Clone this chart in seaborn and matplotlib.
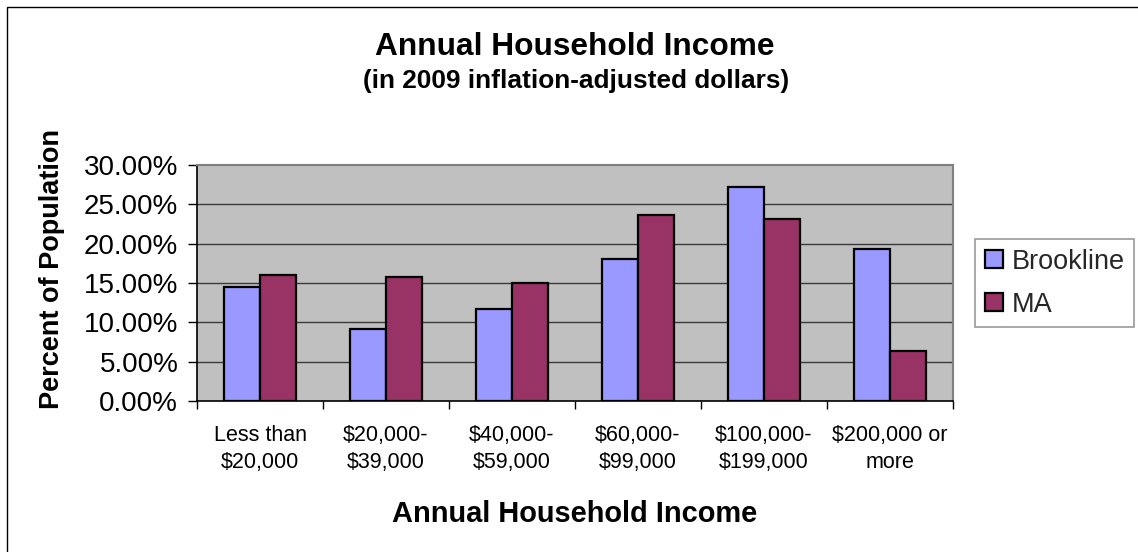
import matplotlib
matplotlib.use("Agg")
import matplotlib.pyplot as plt
from matplotlib.patches import Rectangle
from matplotlib.ticker import FixedLocator, FuncFormatter
import pandas as pd
import seaborn as sns

# Income brackets and the share of households (percent) in each
categories = ["Less than\n$20,000", "$20,000-\n$39,000", "$40,000-\n$59,000",
              "$60,000-\n$99,000", "$100,000-\n$199,000", "$200,000 or\nmore"]
brookline = [14.5, 9.1, 11.7, 18.0, 27.2, 19.3]
ma = [16.0, 15.7, 15.0, 23.6, 23.1, 6.3]
series_names = ["Brookline", "MA"]
y_ticks = [0, 5, 10, 15, 20, 25, 30]

df = pd.DataFrame({
    "Income": categories * 2,
    "Area": [series_names[0]] * len(categories) + [series_names[1]] * len(categories),
    "Percent": brookline + ma,
})

sns.set_theme(style="white")
plt.rcParams["font.family"] = ["Liberation Sans", "DejaVu Sans"]

W, H = 1138, 552
fig = plt.figure(figsize=(W / 100, H / 100), dpi=100)
fig.patch.set_facecolor("white")

# Plot area placed in pixel terms
L, R, T, B = 197, 953, 165, 401
ax = fig.add_axes([L / W, 1 - B / H, (R - L) / W, (B - T) / H])
ax.set_facecolor("#C0C0C0")

palette = {"Brookline": "#9999FF", "MA": "#993366"}
sns.barplot(data=df, x="Income", y="Percent", hue="Area", hue_order=series_names,
            palette=palette, order=categories, width=0.571, gap=0,
            edgecolor="black", linewidth=1.6, saturation=1, ax=ax, zorder=3)

ax.set_ylim(0, 30)
ax.set_xlim(-0.5, len(categories) - 0.5)
ax.yaxis.set_major_locator(FixedLocator(y_ticks))
ax.yaxis.set_major_formatter(FuncFormatter(lambda v, p: f"{v:.2f}%"))
for yv in y_ticks[1:-1]:
    ax.axhline(yv, color="#3a3a3a", lw=1.0, zorder=1)

# Category labels centred, tick marks on the boundaries between groups
ax.set_xticks(range(len(categories)))
ax.set_xticklabels(categories, fontsize=15.5, linespacing=1.4)
ax.set_xticks([i - 0.5 for i in range(len(categories) + 1)], minor=True)
ax.tick_params(axis="x", which="major", length=0, pad=17, colors="black")
ax.tick_params(axis="x", which="minor", length=5.5, width=1, color="black",
               direction="out", bottom=True)
ax.tick_params(axis="y", which="major", length=6.5, width=1, color="black",
               direction="out", left=True, pad=7, labelsize=20, labelcolor="black")

ax.set_xlabel("")
ax.set_ylabel("")
for side in ("left", "bottom"):
    ax.spines[side].set_color("black")
    ax.spines[side].set_linewidth(1.2)
for side in ("top", "right"):
    ax.spines[side].set_color("#808080")
    ax.spines[side].set_linewidth(1.5)
    ax.spines[side].set_visible(True)

# Legend
handles, labels = ax.get_legend_handles_labels()
ax.get_legend().remove()
for h in handles:
    h.set_edgecolor("black")
    h.set_linewidth(1.6)
leg = fig.legend(handles, labels, loc="upper left",
                 bbox_to_anchor=(975 / W, 1 - 239 / H), bbox_transform=fig.transFigure,
                 fontsize=19.5, frameon=True, fancybox=False, borderaxespad=0,
                 handlelength=0.68, handleheight=0.62, handletextpad=0.3,
                 labelspacing=0.62, borderpad=0.36)
leg.get_frame().set_edgecolor("#808080")
leg.get_frame().set_linewidth(1.2)
leg.get_frame().set_facecolor("white")

# Titles
fig.text(575 / W, 1 - 55 / H, "Annual Household Income", ha="center", va="baseline",
         fontsize=22.75, fontweight="bold", color="black")
fig.text(576 / W, 1 - 88 / H, "(in 2009 inflation-adjusted dollars)", ha="center",
         va="baseline", fontsize=18.9, fontweight="bold", color="black")
fig.text(575 / W, 1 - 522 / H, "Annual Household Income", ha="center", va="baseline",
         fontsize=20.9, fontweight="bold", color="black")
fig.text(52 / W, 1 - 269 / H, "Percent of Population", ha="center", va="center",
         rotation=90, fontsize=19.5, fontweight="bold", color="black")

# Chart frame
fig.patches.append(Rectangle((7 / W, -0.05), 1.1, 1.05 - 7 / H, transform=fig.transFigure,
                             fill=False, edgecolor="black", lw=1.0))

fig.savefig("out.png", dpi=100, facecolor="white")
